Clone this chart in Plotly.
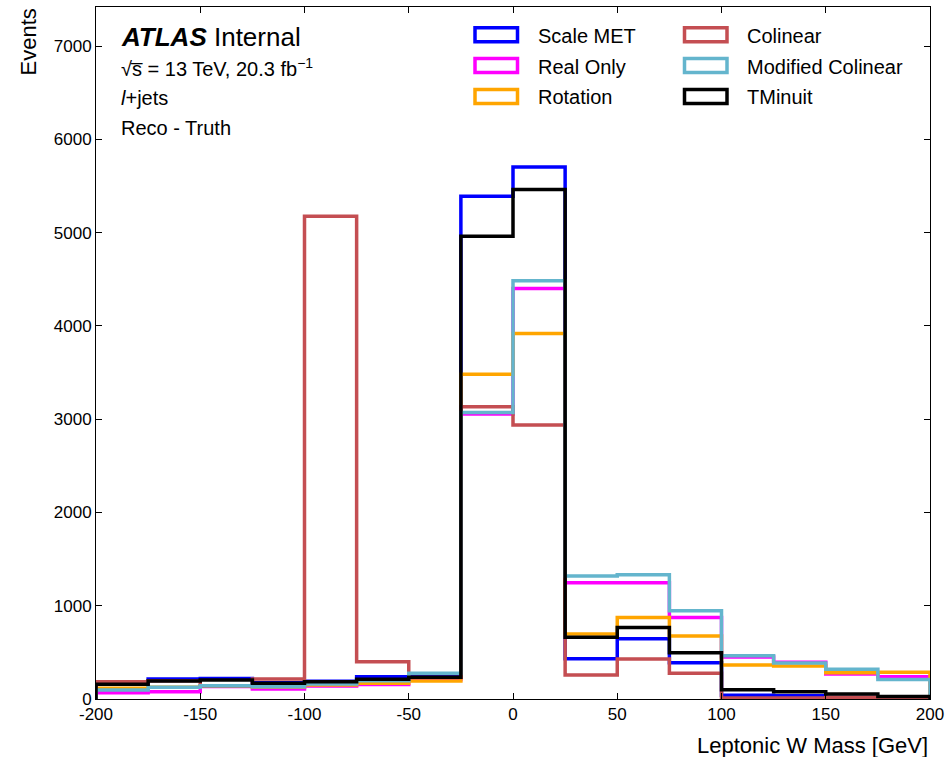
import plotly.graph_objects as go

# ---------------- data ----------------
bin_edges = [-200, -175, -150, -125, -100, -75, -50, -25, 0, 25, 50, 75, 100, 125, 150, 175, 200]

scale_met = [160, 214, 221, 175, 190, 239, 240, 5391, 5705, 432, 646, 389, 40, 36, 15, 10]
real_only = [68, 79, 135, 107, 139, 155, 210, 3055, 4402, 1247, 1247, 875, 450, 395, 268, 239]
rotation = [115, 125, 140, 130, 150, 168, 193, 3483, 3919, 697, 875, 675, 364, 354, 282, 286]
colinear = [186, 195, 140, 214, 5177, 400, 230, 3133, 2937, 257, 429, 275, 10, 12, 20, 12]
mod_colinear = [96, 125, 143, 132, 161, 196, 275, 3073, 4484, 1318, 1333, 947, 465, 385, 320, 208]
tminuit = [157, 193, 204, 168, 186, 211, 233, 4962, 5463, 661, 768, 496, 100, 77, 54, 28]

series_names = ["Scale MET", "Real Only", "Rotation", "Colinear", "Modified Colinear", "TMinuit"]
series_values = [scale_met, real_only, rotation, colinear, mod_colinear, tminuit]
series_colors = ["#0000ff", "#ff00ff", "#ffa500", "#c44e52", "#64b5cd", "#000000"]

x_ticks = [-200, -150, -100, -50, 0, 50, 100, 150, 200]
y_ticks = [0, 1000, 2000, 3000, 4000, 5000, 6000, 7000]

FONT = "Liberation Sans, Arial, Helvetica, sans-serif"
W, H = 945, 757
ML, MR, MT, MB = 96, 15, 7, 58
PW = W - ML - MR
PH = H - MT - MB


def px2paper(px, py):
    return (px - ML) / PW, (H - MB - py) / PH


def step_xy(edges, vals):
    xs = [edges[0]] + list(edges) + [edges[-1]]
    ys = [0] + list(vals) + [vals[-1], 0]
    return xs, ys


fig = go.Figure()
for name, vals, col in zip(series_names, series_values, series_colors):
    xs, ys = step_xy(bin_edges, vals)
    fig.add_trace(go.Scatter(x=xs, y=ys, mode="lines", name=name,
                             line=dict(color=col, width=3.5, shape="hv"),
                             showlegend=False))

# ---------------- legend (boxes like matplotlib step patches) ----------------
shapes = []
annotations = []
legend_cols = [(475, 536), (684.5, 745)]
row_y0 = 34.8
row_dy = 30.8
for i, (name, col) in enumerate(zip(series_names, series_colors)):
    c, r = divmod(i, 3)
    bx, tx = legend_cols[c]
    cy = row_y0 + r * row_dy
    x0, y0 = px2paper(bx, cy + 7)
    x1, y1 = px2paper(bx + 42.5, cy - 7)
    shapes.append(dict(type="rect", xref="paper", yref="paper", x0=x0, x1=x1, y0=y0, y1=y1,
                       line=dict(color=col, width=3.5), fillcolor="white", layer="above"))
    tx_p, ty_p = px2paper(tx, cy + 1)
    annotations.append(dict(text=name, xref="paper", yref="paper", x=tx_p, y=ty_p,
                            xanchor="left", yanchor="middle", showarrow=False,
                            font=dict(family=FONT, size=20, color="black")))

# ---------------- ATLAS labels ----------------
label_lines = [
    ("<b><i>ATLAS</i></b> Internal", 26, 37),
    ("√s\u0305 = 13 TeV, 20.3 fb<sup>−1</sup>", 20, 67),
    ("<i>l</i>+jets", 20, 98),
    ("Reco - Truth", 20, 128),
]
for txt, size, cy in label_lines:
    ax, ay = px2paper(119, cy)
    annotations.append(dict(text=txt, xref="paper", yref="paper", x=ax, y=ay,
                            xanchor="left", yanchor="middle", showarrow=False,
                            font=dict(family=FONT, size=size, color="black")))

# axis titles (matplotlib ATLAS style: aligned to the ends)
ax, ay = px2paper(28, 0)
annotations.append(dict(text="Events", xref="paper", yref="paper", x=ax, y=1.0,
                        xanchor="center", yanchor="top", textangle=-90, showarrow=False,
                        font=dict(family=FONT, size=22, color="black")))
ax, ay = px2paper(930, 745)
annotations.append(dict(text="Leptonic W Mass [GeV]", xref="paper", yref="paper", x=1.0, y=ay,
                        xanchor="right", yanchor="middle", showarrow=False,
                        font=dict(family=FONT, size=22, color="black")))

axis_common = dict(showline=True, linecolor="black", linewidth=1, mirror="ticks",
                   ticks="inside", ticklen=6, tickwidth=1, tickcolor="black",
                   showgrid=False, zeroline=False, automargin=False,
                   tickfont=dict(family=FONT, size=17, color="black"))

fig.update_layout(
    width=W, height=H,
    margin=dict(l=ML, r=MR, t=MT, b=MB, pad=0, autoexpand=False),
    paper_bgcolor="white", plot_bgcolor="white",
    xaxis=dict(range=[-200, 200], tickvals=x_ticks, ticktext=[str(v) for v in x_ticks], **axis_common),
    yaxis=dict(range=[0, 7420], tickvals=y_ticks, ticktext=[str(v) for v in y_ticks], **axis_common),
    shapes=shapes,
    annotations=annotations,
    showlegend=False,
)

fig.write_html("out.html")
